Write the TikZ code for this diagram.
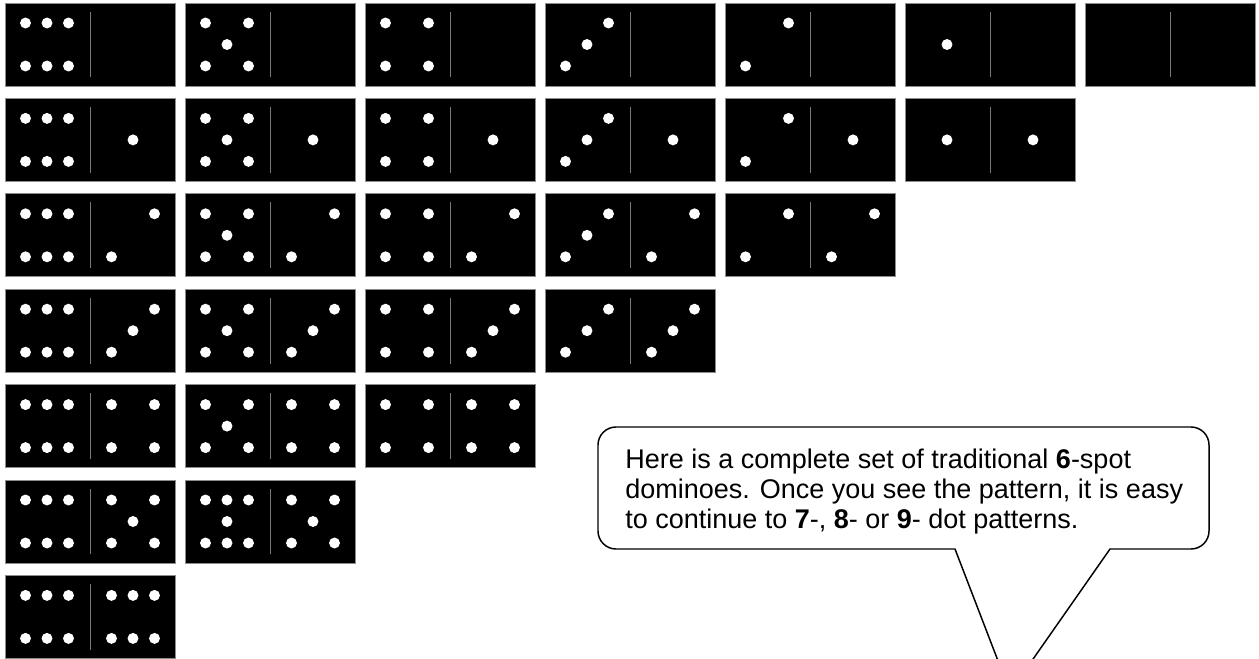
\documentclass[tikz,border=0pt]{standalone}
\usepackage{fontspec}
\setmainfont{Liberation Sans}
\usepackage{xcolor}
\usepackage{tikz}
\usetikzlibrary{calc}
\definecolor{ink}{HTML}{000000}
\definecolor{rim}{HTML}{8C8C8C}
\definecolor{seam}{HTML}{7A7A7A}
\tikzset{
  domino/.style={draw=rim, fill=black, line width=0.6pt, minimum width=127.5pt,
    minimum height=62.25pt, inner sep=0pt},
  seamline/.style={draw=seam, line width=0.7pt},
  pip/.style={fill=white},
  bubble/.style={draw=ink, line width=1.1pt},
}
% one white spot: node, half (-1 left, 1 right), column, row
\newcommand{\spot}[4]{\fill[pip] ($(#1)+({#2*43+#3*21.5},{#4*21.5})$) circle[radius=4.1pt];}
\newcommand{\halfspots}[3]{%
  \ifcase#3\relax
  \or \spot{#1}{#2}{0}{0}
  \or \spot{#1}{#2}{1}{-1}\spot{#1}{#2}{-1}{1}
  \or \spot{#1}{#2}{-1}{1}\spot{#1}{#2}{0}{0}\spot{#1}{#2}{1}{-1}
  \or \spot{#1}{#2}{-1}{-1}\spot{#1}{#2}{1}{-1}\spot{#1}{#2}{-1}{1}\spot{#1}{#2}{1}{1}
  \or \spot{#1}{#2}{-1}{-1}\spot{#1}{#2}{1}{-1}\spot{#1}{#2}{-1}{1}\spot{#1}{#2}{1}{1}%
      \spot{#1}{#2}{0}{0}
  \or \spot{#1}{#2}{-1}{-1}\spot{#1}{#2}{0}{-1}\spot{#1}{#2}{1}{-1}%
      \spot{#1}{#2}{-1}{1}\spot{#1}{#2}{0}{1}\spot{#1}{#2}{1}{1}
  \or \spot{#1}{#2}{-1}{-1}\spot{#1}{#2}{0}{-1}\spot{#1}{#2}{1}{-1}%
      \spot{#1}{#2}{-1}{1}\spot{#1}{#2}{0}{1}\spot{#1}{#2}{1}{1}\spot{#1}{#2}{0}{0}
  \fi}

\begin{document}
\begin{tikzpicture}[x=0.75pt, y=-0.75pt, font=\fontsize{20.25pt}{22.5pt}\selectfont]
\useasboundingbox (0,0) rectangle (1259,659);
\clip (0,0) rectangle (1259,659);
% the set, one row per right-hand value
\foreach \r in {0,...,6}{
  \pgfmathtruncatemacro\last{6-\r}
  \foreach \c in {0,...,\last}{
    \pgfmathtruncatemacro\lv{6-\c}
    \ifnum\r=5 \ifnum\c=1 \def\lv{7}\fi\fi
    \node[domino] (d\r\c) at ({90+180*\c},{44.5+95.4*\r}) {};
    \draw[seamline] ($(d\r\c.north)+(0,9)$) -- ($(d\r\c.south)+(0,-9)$);
    \halfspots{d\r\c}{-1}{\lv}
    \halfspots{d\r\c}{1}{\r}
  }
}
% speech bubble
\coordinate (tip) at (1010,692);
\draw[bubble] (955,549) [rounded corners=13.5pt] -- (598,549) -- (598,427) -- (1209,427)
  -- (1209,549) [sharp corners] -- (1110,549) -- (tip) -- cycle;
\node[anchor=north west, inner sep=0pt, align=left] (note) at (625,449)
  {Here is a complete set of traditional \textbf{6}-spot\\
   dominoes. Once you see the pattern, it is easy\\
   to continue to \textbf{7}-, \textbf{8}- or \textbf{9}- dot patterns.};
\end{tikzpicture}
\end{document}
